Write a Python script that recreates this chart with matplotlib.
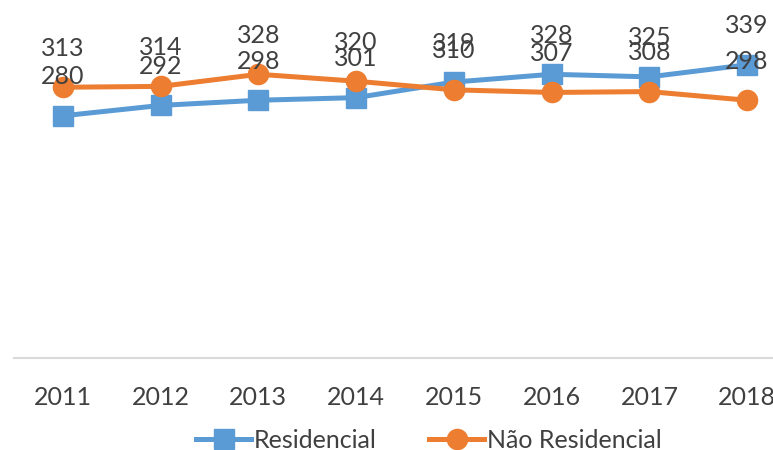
import matplotlib
matplotlib.use("Agg")
from matplotlib import pyplot as plt

years = ["2011", "2012", "2013", "2014", "2015", "2016", "2017", "2018"]
residencial = [280, 292, 298, 301, 319, 328, 325, 339]
nao_residencial = [313, 314, 328, 320, 310, 307, 308, 298]

BLUE = "#5B9BD5"
ORANGE = "#ED7D31"
TEXT = "#404040"

plt.rcParams['font.family'] = ['Lato', 'DejaVu Sans']

fig = plt.figure(figsize=(7.73, 4.5), dpi=100)
# plot area runs past the right edge on purpose, so 2018 sits near the border
ax = fig.add_axes([14 / 773, 92 / 450, 782 / 773, 346 / 450])

x = list(range(len(years)))
ax.plot(x, residencial, color=BLUE, linewidth=3.6, marker="s", markersize=14,
        label="Residencial")
ax.plot(x, nao_residencial, color=ORANGE, linewidth=3.6, marker="o", markersize=14.5,
        label="Não Residencial")

for xi, v in zip(x, residencial):
    ax.annotate(str(v), (xi, v), xytext=(0, 28), textcoords="offset points",
                ha="center", va="center", fontsize=18, color=TEXT)
for xi, v in zip(x, nao_residencial):
    ax.annotate(str(v), (xi, v), xytext=(0, 28), textcoords="offset points",
                ha="center", va="center", fontsize=18, color=TEXT)

ax.set_xlim(-0.5, len(years) - 0.5)
ax.set_ylim(0, 400)
ax.set_xticks(x)
ax.set_xticklabels(years)
ax.set_yticks([])
ax.tick_params(axis="x", length=0, pad=20, labelsize=18, labelcolor=TEXT)
for side in ["top", "right", "left"]:
    ax.spines[side].set_visible(False)
ax.spines["bottom"].set_color("#D9D9D9")
ax.spines["bottom"].set_linewidth(1.5)

fig.legend(loc="center", bbox_to_anchor=(429 / 773, 1 - 440 / 450), ncol=2,
           frameon=False, fontsize=18, labelcolor=TEXT, handlelength=2.2,
           handletextpad=0.1, columnspacing=2.1)

fig.savefig("out.png", dpi=100)
